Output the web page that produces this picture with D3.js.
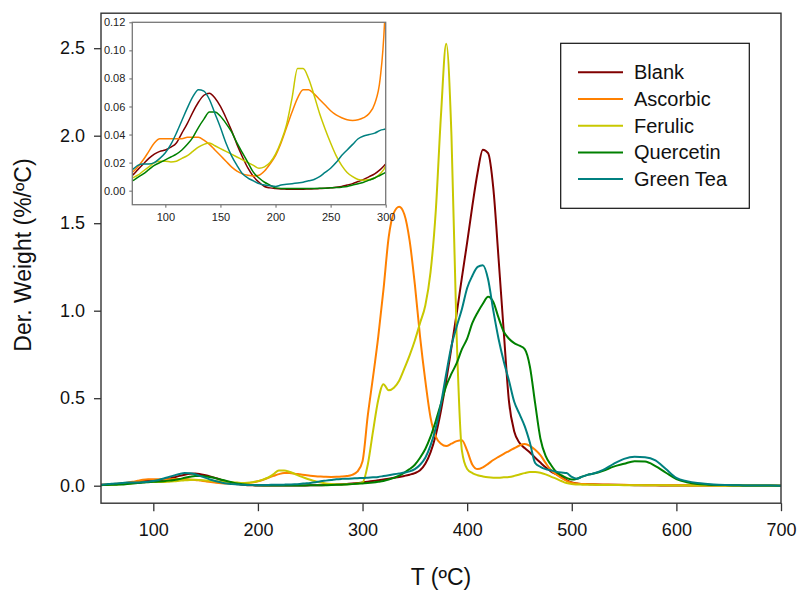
<!DOCTYPE html>
<html><head><meta charset="utf-8">
<script src="https://cdn.jsdelivr.net/npm/d3@7"></script>
<style>
html,body{margin:0;padding:0;background:#fff;}
svg{display:block;font-family:"Liberation Sans",Arial,sans-serif;}
</style></head>
<body><svg id="c" width="799" height="590"></svg>
<script>
// Temperatures (°C) shared by all series
const temps = [
 50,55,60,65,70,75,80,85,90,95,
 100,105,110,115,120,125,130,135,140,145,
 150,155,160,165,170,175,180,185,190,195,
 200,205,210,215,220,225,230,235,240,245,
 250,255,260,265,270,275,280,285,290,295,
 300,305,310,315,320,325,330,335,340,345,
 350,355,360,365,370,375,380,385,390,395,
 400,405,410,415,420,425,430,435,440,445,
 450,455,460,465,470,475,480,485,490,495,
 500,505,510,515,520,
 530,540,550,560,570,580,590,600,610,620,
 630,640,650,660,670,680,690,700];

const blank = [
 0.005,0.006,0.008,0.010,0.011,0.015,0.019,0.023,0.026,0.028,
 0.029,0.031,0.034,0.041,0.048,0.056,0.063,0.068,0.0695,0.066,
 0.060,0.052,0.043,0.033,0.024,0.016,0.010,0.006,0.003,0.002,
 0.0015,0.0012,0.0011,0.001,0.001,0.001,0.0012,0.0013,0.0015,0.0017,
 0.002,0.0025,0.003,0.004,0.005,0.0065,0.008,0.010,0.012,0.015,
 0.019,0.023,0.027,0.031,0.035,0.040,0.045,0.050,0.056,0.063,
 0.072,0.088,0.125,0.19,0.29,0.43,0.60,0.79,0.985,1.19,
 1.39,1.60,1.79,1.92,1.90,1.70,1.30,0.88,0.48,0.31,
 0.245,0.215,0.19,0.16,0.132,0.105,0.082,0.066,0.05,0.032,
 0.018,0.012,0.010,0.009,0.008,
 0.006,0.005,0.004,0.003,0.002,0.002,0.001,0.001,0.001,0.001,
 0.001,0.001,0.0005,0,0,0,0,0];

const ascorbic = [
 0.005,0.007,0.009,0.011,0.013,0.017,0.022,0.028,0.034,0.037,
 0.037,0.037,0.037,0.037,0.038,0.038,0.038,0.036,0.033,0.029,
 0.025,0.021,0.017,0.014,0.012,0.011,0.0105,0.011,0.014,0.019,
 0.025,0.034,0.045,0.056,0.066,0.072,0.072,0.069,0.065,0.061,
 0.057,0.054,0.052,0.0505,0.050,0.0505,0.052,0.055,0.062,0.08,
 0.14,0.40,0.62,0.85,1.12,1.42,1.56,1.594,1.55,1.40,
 1.15,0.85,0.60,0.39,0.28,0.24,0.227,0.24,0.255,0.26,
 0.20,0.12,0.095,0.105,0.125,0.147,0.165,0.182,0.198,0.214,
 0.23,0.238,0.228,0.205,0.175,0.13,0.09,0.065,0.045,0.028,
 0.017,0.012,0.010,0.009,0.008,
 0.007,0.006,0.005,0.004,0.003,0.003,0.003,0.002,0.002,0.001,
 0.001,0.001,0,0,0,0,0,0];

const ferulic = [
 0.004,0.005,0.006,0.007,0.009,0.011,0.014,0.017,0.020,0.021,
 0.021,0.0205,0.021,0.023,0.025,0.028,0.031,0.033,0.034,0.032,
 0.030,0.028,0.026,0.024,0.022,0.020,0.018,0.016,0.017,0.020,
 0.026,0.035,0.047,0.066,0.087,0.087,0.080,0.068,0.055,0.044,
 0.034,0.025,0.018,0.013,0.010,0.008,0.0075,0.008,0.009,0.012,
 0.018,0.12,0.31,0.49,0.58,0.545,0.56,0.60,0.67,0.745,
 0.83,0.93,1.03,1.22,1.57,2.12,2.525,2.0,0.85,0.2,
 0.095,0.072,0.06,0.053,0.048,0.046,0.046,0.048,0.05,0.056,
 0.064,0.072,0.078,0.078,0.074,0.065,0.052,0.04,0.027,0.015,
 0.009,0.007,0.006,0.005,0.005,
 0.004,0.004,0.003,0.003,0.002,0.002,0.002,0.001,0.001,0.001,
 0.001,0,0,0,0,0,0,0];

const quercetin = [
 0.003,0.004,0.005,0.006,0.007,0.0095,0.012,0.015,0.018,0.020,
 0.022,0.024,0.026,0.029,0.033,0.038,0.045,0.051,0.056,0.056,
 0.053,0.048,0.042,0.034,0.027,0.020,0.013,0.009,0.006,0.004,
 0.002,0.0016,0.0015,0.0015,0.0015,0.0015,0.0015,0.0016,0.0017,0.0018,
 0.002,0.0022,0.0025,0.003,0.004,0.005,0.006,0.0075,0.009,0.011,
 0.013,0.015,0.018,0.022,0.027,0.035,0.045,0.058,0.075,0.095,
 0.12,0.16,0.21,0.28,0.37,0.47,0.57,0.64,0.70,0.78,
 0.84,0.93,0.99,1.04,1.08,1.05,0.96,0.88,0.84,0.815,
 0.80,0.78,0.68,0.47,0.27,0.17,0.12,0.08,0.06,0.045,
 0.035,0.04,0.052,0.062,0.068,
 0.085,0.109,0.125,0.14,0.138,0.112,0.074,0.038,0.02,0.01,
 0.006,0.004,0.003,0.002,0.001,0.001,0.001,0];

const greenTea = [
 0.005,0.008,0.011,0.013,0.015,0.018,0.019,0.019,0.020,0.023,
 0.027,0.033,0.041,0.050,0.059,0.067,0.072,0.071,0.065,0.055,
 0.045,0.034,0.025,0.018,0.012,0.009,0.007,0.005,0.004,0.0035,
 0.003,0.004,0.0045,0.005,0.0055,0.006,0.007,0.008,0.010,0.013,
 0.016,0.020,0.025,0.029,0.033,0.037,0.039,0.040,0.041,0.043,
 0.044,0.046,0.048,0.050,0.055,0.060,0.065,0.070,0.075,0.082,
 0.095,0.12,0.16,0.23,0.33,0.47,0.64,0.80,0.91,1.01,
 1.13,1.20,1.25,1.26,1.18,1.00,0.84,0.71,0.60,0.48,
 0.41,0.34,0.245,0.13,0.108,0.095,0.088,0.08,0.075,0.072,
 0.05,0.04,0.052,0.062,0.068,
 0.09,0.125,0.153,0.165,0.163,0.145,0.095,0.045,0.026,0.015,
 0.01,0.006,0.004,0.002,0.001,0.001,0.001,0];

const seriesNames = ["Blank","Ascorbic","Ferulic","Quercetin","Green Tea"];
const seriesColors = ["#800000","#ff8000","#c8c800","#008000","#008080"];
const seriesValues = [blank, ascorbic, ferulic, quercetin, greenTea];

const xTicks = [100,200,300,400,500,600,700];
const yTicks = [0,0.5,1.0,1.5,2.0,2.5];
const insetXTicks = [100,150,200,250,300];
const insetYTicks = [0,0.02,0.04,0.06,0.08,0.10,0.12];

const svg = d3.select("#c");
const FONT = '"Liberation Sans",Arial,sans-serif';

// ---------- main chart ----------
const x = d3.scaleLinear().domain([50,700]).range([101,781]);
const y = d3.scaleLinear().domain([-0.1,2.7]).range([503.2,13.2]);

const series = seriesNames.map((n,i)=>({name:n,color:seriesColors[i],
  pts: temps.map((t,j)=>[t, seriesValues[i][j]])}));

svg.append("defs").append("clipPath").attr("id","mainclip")
  .append("rect").attr("x",101).attr("y",13.2).attr("width",680).attr("height",490);

const line = d3.line().x(d=>x(d[0])).y(d=>y(d[1])).curve(d3.curveMonotoneX);
const gLines = svg.append("g").attr("clip-path","url(#mainclip)");
series.forEach(s=>{
  gLines.append("path").attr("d",line(s.pts)).attr("fill","none")
    .attr("stroke",s.color).attr("stroke-width",2).attr("stroke-linejoin","round");
});

const xAxis = svg.append("g").attr("transform","translate(0,503.2)")
  .call(d3.axisBottom(x).tickValues(xTicks).tickSize(8).tickSizeOuter(0).tickPadding(12).tickFormat(d3.format("d")));
const yAxis = svg.append("g").attr("transform","translate(101,0)")
  .call(d3.axisLeft(y).tickValues(yTicks).tickSize(7).tickSizeOuter(0).tickPadding(9).tickFormat(d3.format(".1f")));
[xAxis,yAxis].forEach(a=>{
  a.select(".domain").remove();
  a.selectAll("line").attr("stroke","#333").attr("stroke-width",1.3);
  a.selectAll("text").attr("font-size",18).attr("font-family",FONT).attr("fill","#111");
});
svg.append("rect").attr("x",101).attr("y",13.2).attr("width",680).attr("height",490)
  .attr("fill","none").attr("stroke","#333").attr("stroke-width",1.4);

svg.append("text").attr("x",441).attr("y",585).attr("text-anchor","middle")
  .attr("font-size",23).attr("font-family",FONT).attr("fill","#111").text("T (ºC)");
svg.append("text").attr("transform","translate(31,255) rotate(-90)").attr("text-anchor","middle")
  .attr("font-size",23).attr("font-family",FONT).attr("fill","#111").text("Der. Weight (%/ºC)");

// ---------- inset ----------
const xi = d3.scaleLinear().domain([70,300]).range([132.3,385.7]);
const yi = d3.scaleLinear().domain([-0.01,0.12]).range([204.7,22.3]);
svg.append("rect").attr("x",132.3).attr("y",22.3).attr("width",253.4).attr("height",182.4)
  .attr("fill","#fff").attr("stroke","none");
svg.select("defs").append("clipPath").attr("id","insetclip")
  .append("rect").attr("x",132.3).attr("y",22.3).attr("width",253.4).attr("height",182.4);
const lineI = d3.line().x(d=>xi(d[0])).y(d=>yi(d[1])).curve(d3.curveMonotoneX);
const gI = svg.append("g").attr("clip-path","url(#insetclip)");
series.forEach(s=>{
  gI.append("path").attr("d",lineI(s.pts.filter(p=>p[0]>=60&&p[0]<=310))).attr("fill","none")
    .attr("stroke",s.color).attr("stroke-width",1.5).attr("stroke-linejoin","round");
});
const xiAxis = svg.append("g").attr("transform","translate(0,204.7)")
  .call(d3.axisBottom(xi).tickValues(insetXTicks).tickSize(3).tickSizeOuter(0).tickPadding(6).tickFormat(d3.format("d")));
const yiAxis = svg.append("g").attr("transform","translate(132.3,0)")
  .call(d3.axisLeft(yi).tickValues(insetYTicks).tickSize(3).tickSizeOuter(0).tickPadding(4).tickFormat(d3.format(".2f")));
[xiAxis,yiAxis].forEach(a=>{
  a.select(".domain").remove();
  a.selectAll("line").attr("stroke","#666").attr("stroke-width",1);
  a.selectAll("text").attr("font-size",11).attr("font-family",FONT).attr("fill","#222");
});
svg.append("rect").attr("x",132.3).attr("y",22.3).attr("width",253.4).attr("height",182.4)
  .attr("fill","none").attr("stroke","#777").attr("stroke-width",1.3);

// ---------- legend ----------
const lg = svg.append("g");
lg.append("rect").attr("x",560.7).attr("y",43.3).attr("width",188.6).attr("height",165)
  .attr("fill","#fff").attr("stroke","#111").attr("stroke-width",1.2);
series.forEach((s,i)=>{
  const yy = 72.3 + i*26.7;
  lg.append("line").attr("x1",578).attr("x2",623).attr("y1",yy).attr("y2",yy)
    .attr("stroke",s.color).attr("stroke-width",2);
  lg.append("text").attr("x",634).attr("y",yy+7).attr("font-size",20)
    .attr("font-family",FONT).attr("fill","#111").text(s.name);
});
</script></body></html>
